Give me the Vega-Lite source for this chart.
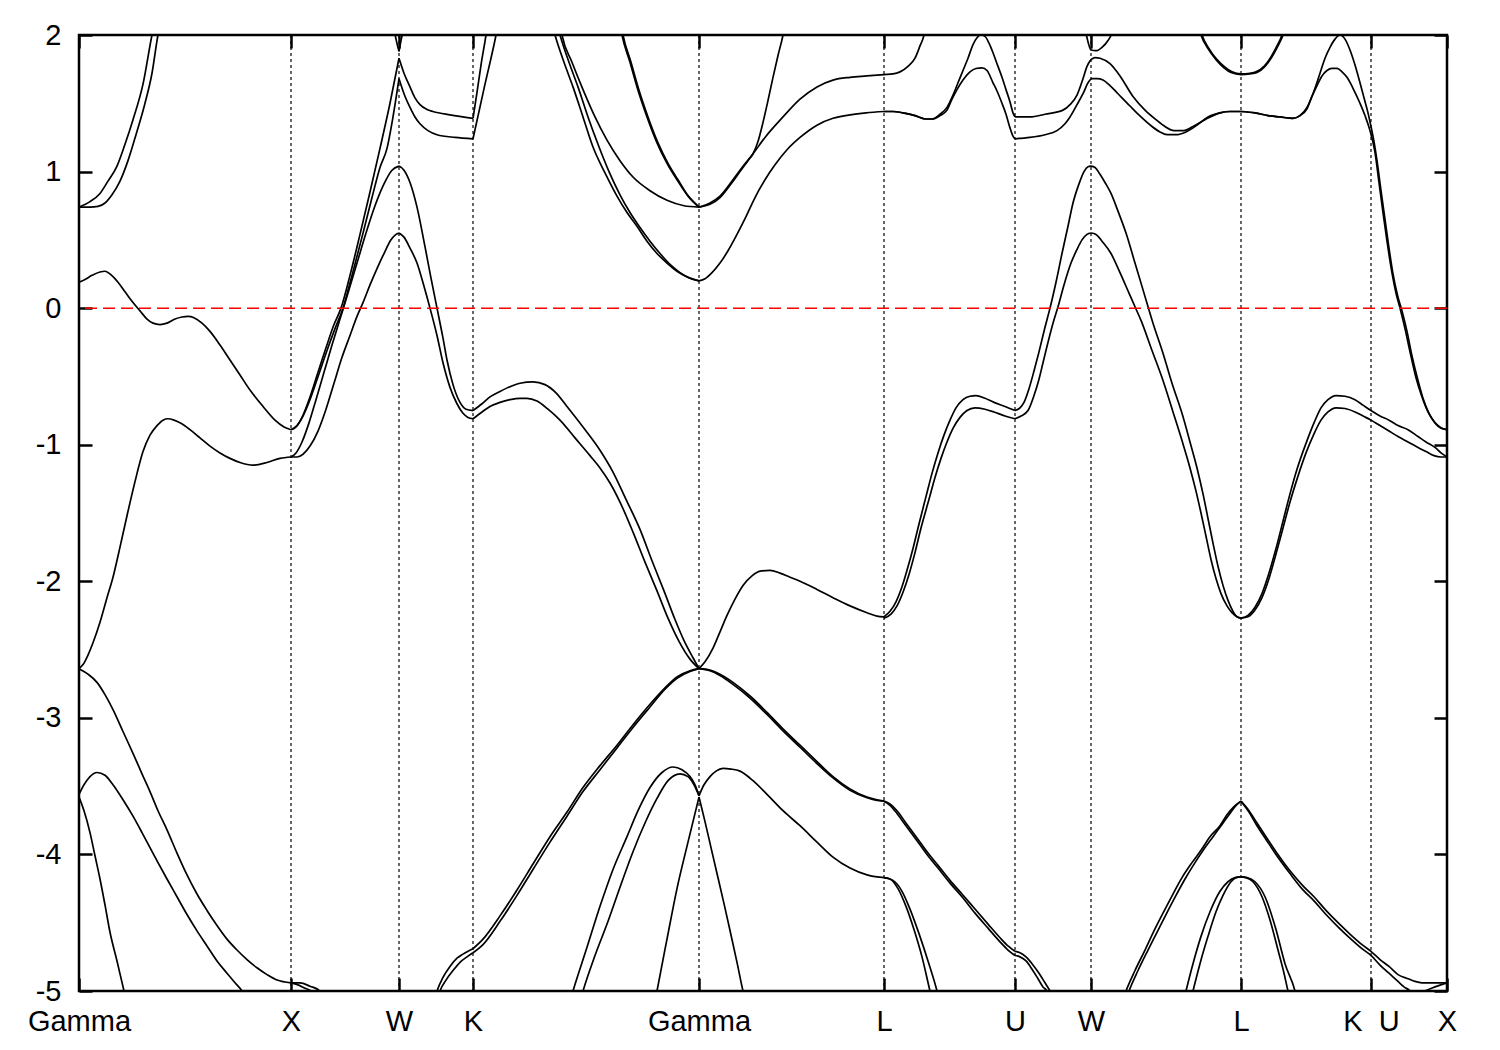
{
"$schema": "https://vega.github.io/schema/vega-lite/v6.json",
"width": 1368, "height": 956,
"autosize": {"type": "none"},
"padding": {"left": 79, "top": 35, "right": 53, "bottom": 59},
"background": "white",
"config": {
 "view": {"stroke": "black", "strokeWidth": 2.5},
 "axis": {"labelFont": "Liberation Sans", "labelFontSize": 29, "labelColor": "black", "tickColor": "black", "tickWidth": 2.5, "tickSize": 13, "offset": -13, "domain": false, "grid": false, "labelFlush": false, "labelOverlap": false, "labelBound": false, "title": null}
},
"resolve": {"axis": {"x": "independent", "y": "independent"}},
"layer": [
 {
  "data": {"values": [{"k":291},{"k":399},{"k":473},{"k":699},{"k":884},{"k":1015},{"k":1091},{"k":1241},{"k":1371}]},
  "mark": {"type": "rule", "color": "black", "strokeDash": [3,3], "strokeWidth": 1.2},
  "encoding": {
   "x": {"field": "k", "type": "quantitative", "scale": {"domain": [79,1447], "nice": false, "zero": false},
         "axis": {"orient": "top", "values": [79,291,399,473,699,884,1015,1091,1241,1371,1447], "labels": false}}
  }
 },
 {
  "data": {"values": [
{"b":"s1","k":79,"e":0.74},{"b":"s1","k":90,"e":0.78},{"b":"s1","k":100,"e":0.84},{"b":"s1","k":108,"e":0.93},{"b":"s1","k":117,"e":1.04},{"b":"s1","k":125,"e":1.2},{"b":"s1","k":133,"e":1.38},{"b":"s1","k":143,"e":1.64},{"b":"s1","k":152,"e":2.0},{"b":"s1","k":155,"e":2.1},
{"b":"s2","k":79,"e":0.74},{"b":"s2","k":90,"e":0.74},{"b":"s2","k":98,"e":0.745},{"b":"s2","k":105,"e":0.77},{"b":"s2","k":112,"e":0.83},{"b":"s2","k":120,"e":0.93},{"b":"s2","k":128,"e":1.08},{"b":"s2","k":136,"e":1.27},{"b":"s2","k":145,"e":1.5},{"b":"s2","k":152,"e":1.72},{"b":"s2","k":158,"e":2.0},{"b":"s2","k":161,"e":2.1},
{"b":"s3","k":79,"e":0.19},{"b":"s3","k":85,"e":0.21},{"b":"s3","k":92,"e":0.24},{"b":"s3","k":100,"e":0.265},{"b":"s3","k":105,"e":0.27},{"b":"s3","k":110,"e":0.25},{"b":"s3","k":118,"e":0.19},{"b":"s3","k":125,"e":0.12},{"b":"s3","k":132,"e":0.05},{"b":"s3","k":140,"e":-0.02},{"b":"s3","k":147,"e":-0.08},{"b":"s3","k":153,"e":-0.11},{"b":"s3","k":160,"e":-0.12},{"b":"s3","k":167,"e":-0.11},{"b":"s3","k":175,"e":-0.08},{"b":"s3","k":182,"e":-0.065},{"b":"s3","k":188,"e":-0.06},{"b":"s3","k":194,"e":-0.07},{"b":"s3","k":202,"e":-0.11},{"b":"s3","k":210,"e":-0.17},{"b":"s3","k":220,"e":-0.27},{"b":"s3","k":230,"e":-0.38},{"b":"s3","k":240,"e":-0.49},{"b":"s3","k":250,"e":-0.6},{"b":"s3","k":263,"e":-0.72},{"b":"s3","k":275,"e":-0.82},{"b":"s3","k":284,"e":-0.87},{"b":"s3","k":291,"e":-0.89},
{"b":"s4","k":79,"e":-2.64},{"b":"s4","k":83,"e":-2.61},{"b":"s4","k":88,"e":-2.54},{"b":"s4","k":93,"e":-2.45},{"b":"s4","k":100,"e":-2.3},{"b":"s4","k":107,"e":-2.12},{"b":"s4","k":113,"e":-1.97},{"b":"s4","k":120,"e":-1.75},{"b":"s4","k":127,"e":-1.52},{"b":"s4","k":135,"e":-1.27},{"b":"s4","k":143,"e":-1.05},{"b":"s4","k":150,"e":-0.93},{"b":"s4","k":157,"e":-0.86},{"b":"s4","k":163,"e":-0.82},{"b":"s4","k":168,"e":-0.81},{"b":"s4","k":174,"e":-0.82},{"b":"s4","k":180,"e":-0.84},{"b":"s4","k":190,"e":-0.89},{"b":"s4","k":200,"e":-0.95},{"b":"s4","k":210,"e":-1.01},{"b":"s4","k":220,"e":-1.06},{"b":"s4","k":230,"e":-1.1},{"b":"s4","k":240,"e":-1.13},{"b":"s4","k":253,"e":-1.15},{"b":"s4","k":267,"e":-1.13},{"b":"s4","k":280,"e":-1.1},{"b":"s4","k":291,"e":-1.09},
{"b":"s5","k":79,"e":-2.64},{"b":"s5","k":88,"e":-2.68},{"b":"s5","k":97,"e":-2.74},{"b":"s5","k":105,"e":-2.83},{"b":"s5","k":113,"e":-2.94},{"b":"s5","k":123,"e":-3.1},{"b":"s5","k":133,"e":-3.26},{"b":"s5","k":142,"e":-3.41},{"b":"s5","k":150,"e":-3.54},{"b":"s5","k":158,"e":-3.68},{"b":"s5","k":167,"e":-3.82},{"b":"s5","k":177,"e":-3.99},{"b":"s5","k":187,"e":-4.15},{"b":"s5","k":197,"e":-4.29},{"b":"s5","k":207,"e":-4.41},{"b":"s5","k":217,"e":-4.52},{"b":"s5","k":227,"e":-4.62},{"b":"s5","k":237,"e":-4.7},{"b":"s5","k":247,"e":-4.77},{"b":"s5","k":257,"e":-4.83},{"b":"s5","k":267,"e":-4.88},{"b":"s5","k":277,"e":-4.92},{"b":"s5","k":291,"e":-4.94},
{"b":"s6","k":79,"e":-3.56},{"b":"s6","k":84,"e":-3.49},{"b":"s6","k":90,"e":-3.43},{"b":"s6","k":97,"e":-3.4},{"b":"s6","k":105,"e":-3.42},{"b":"s6","k":113,"e":-3.49},{"b":"s6","k":123,"e":-3.6},{"b":"s6","k":133,"e":-3.72},{"b":"s6","k":142,"e":-3.84},{"b":"s6","k":150,"e":-3.95},{"b":"s6","k":158,"e":-4.06},{"b":"s6","k":167,"e":-4.18},{"b":"s6","k":177,"e":-4.31},{"b":"s6","k":187,"e":-4.44},{"b":"s6","k":197,"e":-4.56},{"b":"s6","k":207,"e":-4.67},{"b":"s6","k":217,"e":-4.78},{"b":"s6","k":227,"e":-4.87},{"b":"s6","k":235,"e":-4.94},{"b":"s6","k":242,"e":-5.0},{"b":"s6","k":246,"e":-5.05},
{"b":"s7","k":79,"e":-3.58},{"b":"s7","k":84,"e":-3.68},{"b":"s7","k":90,"e":-3.84},{"b":"s7","k":95,"e":-4.01},{"b":"s7","k":100,"e":-4.18},{"b":"s7","k":105,"e":-4.37},{"b":"s7","k":110,"e":-4.57},{"b":"s7","k":117,"e":-4.78},{"b":"s7","k":124,"e":-5.0},{"b":"s7","k":126,"e":-5.06},
{"b":"s8","k":291,"e":-4.94},{"b":"s8","k":300,"e":-4.94},{"b":"s8","k":310,"e":-4.965},{"b":"s8","k":320,"e":-5.0},{"b":"s8","k":323,"e":-5.03},
{"b":"s9","k":291,"e":-4.94},{"b":"s9","k":298,"e":-4.955},{"b":"s9","k":305,"e":-4.98},{"b":"s9","k":311,"e":-5.0},{"b":"s9","k":314,"e":-5.03},
{"b":"sA","k":291,"e":-0.89},{"b":"sA","k":296,"e":-0.87},{"b":"sA","k":302,"e":-0.8},{"b":"sA","k":310,"e":-0.65},{"b":"sA","k":318,"e":-0.47},{"b":"sA","k":326,"e":-0.29},{"b":"sA","k":334,"e":-0.12},{"b":"sA","k":341,"e":0.0},{"b":"sA","k":350,"e":0.24},{"b":"sA","k":360,"e":0.54},{"b":"sA","k":370,"e":0.85},{"b":"sA","k":380,"e":1.17},{"b":"sA","k":390,"e":1.5},{"b":"sA","k":399,"e":1.83},
{"b":"sB","k":291,"e":-0.89},{"b":"sB","k":297,"e":-0.86},{"b":"sB","k":303,"e":-0.79},{"b":"sB","k":311,"e":-0.65},{"b":"sB","k":319,"e":-0.48},{"b":"sB","k":327,"e":-0.31},{"b":"sB","k":335,"e":-0.15},{"b":"sB","k":343,"e":0.0},{"b":"sB","k":352,"e":0.24},{"b":"sB","k":362,"e":0.52},{"b":"sB","k":372,"e":0.81},{"b":"sB","k":380,"e":1.03},{"b":"sB","k":387,"e":1.17},{"b":"sB","k":393,"e":1.4},{"b":"sB","k":399,"e":1.68},
{"b":"sC","k":291,"e":-1.09},{"b":"sC","k":296,"e":-1.06},{"b":"sC","k":302,"e":-0.98},{"b":"sC","k":309,"e":-0.84},{"b":"sC","k":316,"e":-0.67},{"b":"sC","k":324,"e":-0.47},{"b":"sC","k":332,"e":-0.27},{"b":"sC","k":340,"e":-0.08},{"b":"sC","k":348,"e":0.11},{"b":"sC","k":357,"e":0.33},{"b":"sC","k":366,"e":0.55},{"b":"sC","k":375,"e":0.75},{"b":"sC","k":384,"e":0.91},{"b":"sC","k":392,"e":1.01},{"b":"sC","k":399,"e":1.04},
{"b":"sD","k":291,"e":-1.09},{"b":"sD","k":297,"e":-1.09},{"b":"sD","k":303,"e":-1.07},{"b":"sD","k":310,"e":-1.01},{"b":"sD","k":318,"e":-0.9},{"b":"sD","k":326,"e":-0.74},{"b":"sD","k":334,"e":-0.55},{"b":"sD","k":342,"e":-0.36},{"b":"sD","k":350,"e":-0.2},{"b":"sD","k":357,"e":-0.06},{"b":"sD","k":363,"e":0.04},{"b":"sD","k":370,"e":0.17},{"b":"sD","k":377,"e":0.29},{"b":"sD","k":384,"e":0.4},{"b":"sD","k":391,"e":0.5},{"b":"sD","k":396,"e":0.54},{"b":"sD","k":399,"e":0.55},
{"b":"sV1","k":394,"e":2.05},{"b":"sV1","k":396,"e":1.97},{"b":"sV1","k":399,"e":1.88},
{"b":"sV2","k":399,"e":1.88},{"b":"sV2","k":401,"e":1.96},{"b":"sV2","k":404,"e":2.05},
{"b":"sE","k":399,"e":1.83},{"b":"sE","k":404,"e":1.72},{"b":"sE","k":410,"e":1.62},{"b":"sE","k":415,"e":1.54},{"b":"sE","k":420,"e":1.49},{"b":"sE","k":427,"e":1.455},{"b":"sE","k":433,"e":1.44},{"b":"sE","k":450,"e":1.415},{"b":"sE","k":473,"e":1.39},
{"b":"sF","k":399,"e":1.68},{"b":"sF","k":404,"e":1.57},{"b":"sF","k":410,"e":1.47},{"b":"sF","k":415,"e":1.4},{"b":"sF","k":420,"e":1.35},{"b":"sF","k":428,"e":1.3},{"b":"sF","k":437,"e":1.27},{"b":"sF","k":455,"e":1.25},{"b":"sF","k":473,"e":1.24},
{"b":"sG","k":399,"e":1.04},{"b":"sG","k":404,"e":1.01},{"b":"sG","k":410,"e":0.92},{"b":"sG","k":417,"e":0.74},{"b":"sG","k":425,"e":0.45},{"b":"sG","k":431,"e":0.22},{"b":"sG","k":437,"e":0.0},{"b":"sG","k":443,"e":-0.22},{"b":"sG","k":447,"e":-0.38},{"b":"sG","k":453,"e":-0.56},{"b":"sG","k":460,"e":-0.69},{"b":"sG","k":466,"e":-0.74},{"b":"sG","k":473,"e":-0.75},
{"b":"sH","k":399,"e":0.55},{"b":"sH","k":404,"e":0.52},{"b":"sH","k":410,"e":0.44},{"b":"sH","k":417,"e":0.33},{"b":"sH","k":424,"e":0.16},{"b":"sH","k":430,"e":0.0},{"b":"sH","k":437,"e":-0.2},{"b":"sH","k":443,"e":-0.4},{"b":"sH","k":450,"e":-0.58},{"b":"sH","k":457,"e":-0.7},{"b":"sH","k":463,"e":-0.77},{"b":"sH","k":468,"e":-0.8},{"b":"sH","k":473,"e":-0.81},
{"b":"sI","k":435,"e":-5.05},{"b":"sI","k":437,"e":-5.0},{"b":"sI","k":443,"e":-4.9},{"b":"sI","k":450,"e":-4.82},{"b":"sI","k":457,"e":-4.76},{"b":"sI","k":463,"e":-4.73},{"b":"sI","k":473,"e":-4.69},
{"b":"sJ","k":438,"e":-5.05},{"b":"sJ","k":440,"e":-5.0},{"b":"sJ","k":446,"e":-4.92},{"b":"sJ","k":453,"e":-4.85},{"b":"sJ","k":460,"e":-4.79},{"b":"sJ","k":467,"e":-4.75},{"b":"sJ","k":473,"e":-4.72},
{"b":"sK1","k":473,"e":1.39},{"b":"sK1","k":477,"e":1.58},{"b":"sK1","k":481,"e":1.78},{"b":"sK1","k":486,"e":2.0},{"b":"sK1","k":488,"e":2.1},
{"b":"sK2","k":473,"e":1.24},{"b":"sK2","k":479,"e":1.44},{"b":"sK2","k":485,"e":1.64},{"b":"sK2","k":491,"e":1.83},{"b":"sK2","k":496,"e":2.0},{"b":"sK2","k":498,"e":2.08},
{"b":"sL1","k":552,"e":2.08},{"b":"sL1","k":555,"e":2.0},{"b":"sL1","k":564,"e":1.8},{"b":"sL1","k":573,"e":1.62},{"b":"sL1","k":583,"e":1.4},{"b":"sL1","k":593,"e":1.18},{"b":"sL1","k":605,"e":0.99},{"b":"sL1","k":617,"e":0.82},{"b":"sL1","k":627,"e":0.7},{"b":"sL1","k":637,"e":0.6},{"b":"sL1","k":647,"e":0.49},{"b":"sL1","k":657,"e":0.4},{"b":"sL1","k":667,"e":0.33},{"b":"sL1","k":677,"e":0.27},{"b":"sL1","k":688,"e":0.225},{"b":"sL1","k":699,"e":0.2},
{"b":"sL2","k":557,"e":2.08},{"b":"sL2","k":560,"e":2.0},{"b":"sL2","k":569,"e":1.8},{"b":"sL2","k":578,"e":1.62},{"b":"sL2","k":588,"e":1.4},{"b":"sL2","k":598,"e":1.2},{"b":"sL2","k":609,"e":1.0},{"b":"sL2","k":620,"e":0.83},{"b":"sL2","k":630,"e":0.7},{"b":"sL2","k":640,"e":0.59},{"b":"sL2","k":650,"e":0.49},{"b":"sL2","k":660,"e":0.4},{"b":"sL2","k":670,"e":0.32},{"b":"sL2","k":680,"e":0.26},{"b":"sL2","k":690,"e":0.22},{"b":"sL2","k":699,"e":0.2},
{"b":"sL3","k":560,"e":2.08},{"b":"sL3","k":562,"e":2.0},{"b":"sL3","k":572,"e":1.8},{"b":"sL3","k":583,"e":1.6},{"b":"sL3","k":595,"e":1.4},{"b":"sL3","k":607,"e":1.23},{"b":"sL3","k":620,"e":1.08},{"b":"sL3","k":633,"e":0.96},{"b":"sL3","k":650,"e":0.86},{"b":"sL3","k":667,"e":0.79},{"b":"sL3","k":684,"e":0.75},{"b":"sL3","k":699,"e":0.74},
{"b":"sL4","k":620,"e":2.08},{"b":"sL4","k":622,"e":2.0},{"b":"sL4","k":630,"e":1.8},{"b":"sL4","k":637,"e":1.62},{"b":"sL4","k":647,"e":1.4},{"b":"sL4","k":657,"e":1.21},{"b":"sL4","k":667,"e":1.06},{"b":"sL4","k":677,"e":0.94},{"b":"sL4","k":688,"e":0.82},{"b":"sL4","k":699,"e":0.74},
{"b":"sL4b","k":621,"e":2.08},{"b":"sL4b","k":623,"e":2.0},{"b":"sL4b","k":631,"e":1.8},{"b":"sL4b","k":638,"e":1.62},{"b":"sL4b","k":648,"e":1.4},{"b":"sL4b","k":658,"e":1.21},{"b":"sL4b","k":668,"e":1.06},{"b":"sL4b","k":678,"e":0.94},{"b":"sL4b","k":689,"e":0.815},{"b":"sL4b","k":699,"e":0.74},
{"b":"sM1","k":473,"e":-0.75},{"b":"sM1","k":482,"e":-0.7},{"b":"sM1","k":490,"e":-0.65},{"b":"sM1","k":500,"e":-0.61},{"b":"sM1","k":510,"e":-0.575},{"b":"sM1","k":520,"e":-0.55},{"b":"sM1","k":533,"e":-0.54},{"b":"sM1","k":545,"e":-0.56},{"b":"sM1","k":556,"e":-0.62},{"b":"sM1","k":567,"e":-0.72},{"b":"sM1","k":583,"e":-0.87},{"b":"sM1","k":600,"e":-1.04},{"b":"sM1","k":613,"e":-1.2},{"b":"sM1","k":626,"e":-1.4},{"b":"sM1","k":640,"e":-1.62},{"b":"sM1","k":652,"e":-1.85},{"b":"sM1","k":664,"e":-2.07},{"b":"sM1","k":675,"e":-2.28},{"b":"sM1","k":685,"e":-2.45},{"b":"sM1","k":693,"e":-2.56},{"b":"sM1","k":699,"e":-2.64},
{"b":"sM2","k":473,"e":-0.81},{"b":"sM2","k":482,"e":-0.76},{"b":"sM2","k":490,"e":-0.72},{"b":"sM2","k":500,"e":-0.69},{"b":"sM2","k":510,"e":-0.67},{"b":"sM2","k":520,"e":-0.66},{"b":"sM2","k":527,"e":-0.66},{"b":"sM2","k":537,"e":-0.68},{"b":"sM2","k":548,"e":-0.74},{"b":"sM2","k":560,"e":-0.82},{"b":"sM2","k":575,"e":-0.95},{"b":"sM2","k":590,"e":-1.08},{"b":"sM2","k":600,"e":-1.17},{"b":"sM2","k":610,"e":-1.28},{"b":"sM2","k":620,"e":-1.42},{"b":"sM2","k":633,"e":-1.64},{"b":"sM2","k":645,"e":-1.86},{"b":"sM2","k":657,"e":-2.07},{"b":"sM2","k":668,"e":-2.27},{"b":"sM2","k":679,"e":-2.44},{"b":"sM2","k":690,"e":-2.57},{"b":"sM2","k":699,"e":-2.64},
{"b":"sN1","k":473,"e":-4.69},{"b":"sN1","k":483,"e":-4.62},{"b":"sN1","k":500,"e":-4.45},{"b":"sN1","k":517,"e":-4.26},{"b":"sN1","k":533,"e":-4.07},{"b":"sN1","k":550,"e":-3.87},{"b":"sN1","k":567,"e":-3.69},{"b":"sN1","k":583,"e":-3.51},{"b":"sN1","k":600,"e":-3.35},{"b":"sN1","k":617,"e":-3.2},{"b":"sN1","k":633,"e":-3.05},{"b":"sN1","k":650,"e":-2.9},{"b":"sN1","k":665,"e":-2.78},{"b":"sN1","k":677,"e":-2.7},{"b":"sN1","k":690,"e":-2.655},{"b":"sN1","k":699,"e":-2.64},
{"b":"sN2","k":473,"e":-4.72},{"b":"sN2","k":483,"e":-4.66},{"b":"sN2","k":500,"e":-4.49},{"b":"sN2","k":517,"e":-4.3},{"b":"sN2","k":533,"e":-4.11},{"b":"sN2","k":550,"e":-3.91},{"b":"sN2","k":567,"e":-3.72},{"b":"sN2","k":583,"e":-3.54},{"b":"sN2","k":600,"e":-3.38},{"b":"sN2","k":617,"e":-3.22},{"b":"sN2","k":633,"e":-3.07},{"b":"sN2","k":650,"e":-2.92},{"b":"sN2","k":665,"e":-2.79},{"b":"sN2","k":677,"e":-2.71},{"b":"sN2","k":690,"e":-2.66},{"b":"sN2","k":699,"e":-2.64},
{"b":"sO1","k":571,"e":-5.05},{"b":"sO1","k":573,"e":-5.0},{"b":"sO1","k":587,"e":-4.68},{"b":"sO1","k":600,"e":-4.38},{"b":"sO1","k":613,"e":-4.11},{"b":"sO1","k":627,"e":-3.87},{"b":"sO1","k":638,"e":-3.68},{"b":"sO1","k":650,"e":-3.51},{"b":"sO1","k":662,"e":-3.4},{"b":"sO1","k":673,"e":-3.36},{"b":"sO1","k":682,"e":-3.38},{"b":"sO1","k":690,"e":-3.43},{"b":"sO1","k":695,"e":-3.49},{"b":"sO1","k":699,"e":-3.57},
{"b":"sO2","k":581,"e":-5.05},{"b":"sO2","k":583,"e":-5.0},{"b":"sO2","k":595,"e":-4.74},{"b":"sO2","k":607,"e":-4.51},{"b":"sO2","k":620,"e":-4.24},{"b":"sO2","k":633,"e":-3.98},{"b":"sO2","k":645,"e":-3.77},{"b":"sO2","k":657,"e":-3.59},{"b":"sO2","k":668,"e":-3.46},{"b":"sO2","k":680,"e":-3.41},{"b":"sO2","k":688,"e":-3.43},{"b":"sO2","k":694,"e":-3.49},{"b":"sO2","k":699,"e":-3.57},
{"b":"sP","k":656,"e":-5.04},{"b":"sP","k":657,"e":-5.0},{"b":"sP","k":667,"e":-4.62},{"b":"sP","k":677,"e":-4.25},{"b":"sP","k":688,"e":-3.91},{"b":"sP","k":699,"e":-3.58},
{"b":"sQ1","k":699,"e":0.74},{"b":"sQ1","k":710,"e":0.76},{"b":"sQ1","k":720,"e":0.81},{"b":"sQ1","k":730,"e":0.9},{"b":"sQ1","k":740,"e":1.0},{"b":"sQ1","k":748,"e":1.08},{"b":"sQ1","k":753,"e":1.13},{"b":"sQ1","k":758,"e":1.22},{"b":"sQ1","k":763,"e":1.36},{"b":"sQ1","k":768,"e":1.52},{"b":"sQ1","k":773,"e":1.69},{"b":"sQ1","k":778,"e":1.85},{"b":"sQ1","k":783,"e":2.0},{"b":"sQ1","k":785,"e":2.08},
{"b":"sQ2","k":699,"e":0.74},{"b":"sQ2","k":710,"e":0.77},{"b":"sQ2","k":720,"e":0.82},{"b":"sQ2","k":730,"e":0.91},{"b":"sQ2","k":740,"e":1.01},{"b":"sQ2","k":753,"e":1.13},{"b":"sQ2","k":765,"e":1.25},{"b":"sQ2","k":783,"e":1.4},{"b":"sQ2","k":800,"e":1.53},{"b":"sQ2","k":817,"e":1.62},{"b":"sQ2","k":833,"e":1.67},{"b":"sQ2","k":850,"e":1.69},{"b":"sQ2","k":867,"e":1.7},{"b":"sQ2","k":884,"e":1.71},{"b":"sQ2","k":893,"e":1.715},{"b":"sQ2","k":900,"e":1.73},{"b":"sQ2","k":908,"e":1.77},{"b":"sQ2","k":915,"e":1.83},{"b":"sQ2","k":920,"e":1.92},{"b":"sQ2","k":924,"e":2.0},{"b":"sQ2","k":926,"e":2.08},
{"b":"sR","k":699,"e":0.2},{"b":"sR","k":705,"e":0.215},{"b":"sR","k":712,"e":0.26},{"b":"sR","k":720,"e":0.33},{"b":"sR","k":728,"e":0.42},{"b":"sR","k":737,"e":0.54},{"b":"sR","k":746,"e":0.67},{"b":"sR","k":755,"e":0.81},{"b":"sR","k":765,"e":0.94},{"b":"sR","k":775,"e":1.05},{"b":"sR","k":787,"e":1.16},{"b":"sR","k":800,"e":1.25},{"b":"sR","k":817,"e":1.34},{"b":"sR","k":833,"e":1.39},{"b":"sR","k":850,"e":1.415},{"b":"sR","k":866,"e":1.43},{"b":"sR","k":884,"e":1.44},
{"b":"sGL1","k":699,"e":-2.64},{"b":"sGL1","k":705,"e":-2.59},{"b":"sGL1","k":713,"e":-2.49},{"b":"sGL1","k":720,"e":-2.37},{"b":"sGL1","k":727,"e":-2.25},{"b":"sGL1","k":735,"e":-2.13},{"b":"sGL1","k":743,"e":-2.03},{"b":"sGL1","k":752,"e":-1.96},{"b":"sGL1","k":760,"e":-1.925},{"b":"sGL1","k":770,"e":-1.92},{"b":"sGL1","k":780,"e":-1.94},{"b":"sGL1","k":790,"e":-1.97},{"b":"sGL1","k":800,"e":-2.0},{"b":"sGL1","k":817,"e":-2.06},{"b":"sGL1","k":833,"e":-2.12},{"b":"sGL1","k":850,"e":-2.18},{"b":"sGL1","k":867,"e":-2.23},{"b":"sGL1","k":877,"e":-2.255},{"b":"sGL1","k":884,"e":-2.26},
{"b":"sGL2","k":699,"e":-2.64},{"b":"sGL2","k":710,"e":-2.65},{"b":"sGL2","k":720,"e":-2.68},{"b":"sGL2","k":733,"e":-2.74},{"b":"sGL2","k":750,"e":-2.84},{"b":"sGL2","k":767,"e":-2.96},{"b":"sGL2","k":783,"e":-3.08},{"b":"sGL2","k":800,"e":-3.2},{"b":"sGL2","k":817,"e":-3.32},{"b":"sGL2","k":833,"e":-3.43},{"b":"sGL2","k":850,"e":-3.52},{"b":"sGL2","k":867,"e":-3.58},{"b":"sGL2","k":877,"e":-3.6},{"b":"sGL2","k":884,"e":-3.61},
{"b":"sGL2b","k":699,"e":-2.64},{"b":"sGL2b","k":710,"e":-2.655},{"b":"sGL2b","k":720,"e":-2.69},{"b":"sGL2b","k":733,"e":-2.755},{"b":"sGL2b","k":750,"e":-2.855},{"b":"sGL2b","k":767,"e":-2.975},{"b":"sGL2b","k":783,"e":-3.095},{"b":"sGL2b","k":800,"e":-3.215},{"b":"sGL2b","k":817,"e":-3.335},{"b":"sGL2b","k":833,"e":-3.44},{"b":"sGL2b","k":850,"e":-3.53},{"b":"sGL2b","k":867,"e":-3.585},{"b":"sGL2b","k":877,"e":-3.605},{"b":"sGL2b","k":884,"e":-3.61},
{"b":"sGL3","k":699,"e":-3.57},{"b":"sGL3","k":704,"e":-3.49},{"b":"sGL3","k":710,"e":-3.43},{"b":"sGL3","k":716,"e":-3.39},{"b":"sGL3","k":723,"e":-3.37},{"b":"sGL3","k":731,"e":-3.375},{"b":"sGL3","k":740,"e":-3.39},{"b":"sGL3","k":753,"e":-3.46},{"b":"sGL3","k":767,"e":-3.56},{"b":"sGL3","k":783,"e":-3.68},{"b":"sGL3","k":800,"e":-3.79},{"b":"sGL3","k":817,"e":-3.91},{"b":"sGL3","k":833,"e":-4.02},{"b":"sGL3","k":850,"e":-4.1},{"b":"sGL3","k":867,"e":-4.15},{"b":"sGL3","k":877,"e":-4.165},{"b":"sGL3","k":884,"e":-4.17},
{"b":"sGL4","k":699,"e":-3.58},{"b":"sGL4","k":705,"e":-3.76},{"b":"sGL4","k":711,"e":-3.95},{"b":"sGL4","k":717,"e":-4.14},{"b":"sGL4","k":724,"e":-4.36},{"b":"sGL4","k":731,"e":-4.59},{"b":"sGL4","k":737,"e":-4.79},{"b":"sGL4","k":743,"e":-5.0},{"b":"sGL4","k":745,"e":-5.06},
{"b":"sS1","k":884,"e":1.44},{"b":"sS1","k":893,"e":1.44},{"b":"sS1","k":903,"e":1.43},{"b":"sS1","k":915,"e":1.41},{"b":"sS1","k":925,"e":1.385},{"b":"sS1","k":932,"e":1.385},{"b":"sS1","k":940,"e":1.42},{"b":"sS1","k":947,"e":1.47},{"b":"sS1","k":953,"e":1.56},{"b":"sS1","k":958,"e":1.65},{"b":"sS1","k":963,"e":1.74},{"b":"sS1","k":968,"e":1.83},{"b":"sS1","k":973,"e":1.93},{"b":"sS1","k":977,"e":1.98},{"b":"sS1","k":981,"e":2.0},{"b":"sS1","k":985,"e":1.99},{"b":"sS1","k":989,"e":1.94},{"b":"sS1","k":993,"e":1.87},{"b":"sS1","k":997,"e":1.79},{"b":"sS1","k":1002,"e":1.69},{"b":"sS1","k":1006,"e":1.6},{"b":"sS1","k":1010,"e":1.51},{"b":"sS1","k":1013,"e":1.43},{"b":"sS1","k":1015,"e":1.4},
{"b":"sS2","k":884,"e":1.44},{"b":"sS2","k":893,"e":1.44},{"b":"sS2","k":903,"e":1.43},{"b":"sS2","k":915,"e":1.41},{"b":"sS2","k":925,"e":1.385},{"b":"sS2","k":932,"e":1.385},{"b":"sS2","k":940,"e":1.41},{"b":"sS2","k":947,"e":1.45},{"b":"sS2","k":952,"e":1.53},{"b":"sS2","k":957,"e":1.6},{"b":"sS2","k":963,"e":1.67},{"b":"sS2","k":970,"e":1.73},{"b":"sS2","k":976,"e":1.755},{"b":"sS2","k":982,"e":1.76},{"b":"sS2","k":987,"e":1.74},{"b":"sS2","k":993,"e":1.65},{"b":"sS2","k":997,"e":1.59},{"b":"sS2","k":1002,"e":1.5},{"b":"sS2","k":1006,"e":1.42},{"b":"sS2","k":1010,"e":1.32},{"b":"sS2","k":1013,"e":1.26},{"b":"sS2","k":1015,"e":1.24},
{"b":"sLU1","k":884,"e":-3.61},{"b":"sLU1","k":890,"e":-3.63},{"b":"sLU1","k":897,"e":-3.68},{"b":"sLU1","k":905,"e":-3.76},{"b":"sLU1","k":917,"e":-3.88},{"b":"sLU1","k":928,"e":-3.99},{"b":"sLU1","k":938,"e":-4.08},{"b":"sLU1","k":950,"e":-4.19},{"b":"sLU1","k":962,"e":-4.29},{"b":"sLU1","k":975,"e":-4.4},{"b":"sLU1","k":988,"e":-4.51},{"b":"sLU1","k":1000,"e":-4.61},{"b":"sLU1","k":1008,"e":-4.67},{"b":"sLU1","k":1015,"e":-4.71},
{"b":"sLU2","k":884,"e":-3.61},{"b":"sLU2","k":890,"e":-3.64},{"b":"sLU2","k":897,"e":-3.7},{"b":"sLU2","k":905,"e":-3.78},{"b":"sLU2","k":917,"e":-3.9},{"b":"sLU2","k":928,"e":-4.01},{"b":"sLU2","k":938,"e":-4.1},{"b":"sLU2","k":950,"e":-4.21},{"b":"sLU2","k":962,"e":-4.31},{"b":"sLU2","k":975,"e":-4.43},{"b":"sLU2","k":988,"e":-4.54},{"b":"sLU2","k":1000,"e":-4.64},{"b":"sLU2","k":1008,"e":-4.7},{"b":"sLU2","k":1015,"e":-4.74},
{"b":"sLU3","k":884,"e":-4.17},{"b":"sLU3","k":890,"e":-4.18},{"b":"sLU3","k":898,"e":-4.25},{"b":"sLU3","k":906,"e":-4.38},{"b":"sLU3","k":914,"e":-4.55},{"b":"sLU3","k":922,"e":-4.75},{"b":"sLU3","k":930,"e":-5.0},{"b":"sLU3","k":931,"e":-5.03},
{"b":"sLU4","k":884,"e":-4.17},{"b":"sLU4","k":893,"e":-4.19},{"b":"sLU4","k":902,"e":-4.27},{"b":"sLU4","k":910,"e":-4.4},{"b":"sLU4","k":919,"e":-4.58},{"b":"sLU4","k":928,"e":-4.78},{"b":"sLU4","k":937,"e":-5.0},{"b":"sLU4","k":938,"e":-5.03},
{"b":"sLU5","k":884,"e":-2.26},{"b":"sLU5","k":890,"e":-2.22},{"b":"sLU5","k":896,"e":-2.15},{"b":"sLU5","k":902,"e":-2.04},{"b":"sLU5","k":907,"e":-1.92},{"b":"sLU5","k":913,"e":-1.76},{"b":"sLU5","k":919,"e":-1.58},{"b":"sLU5","k":926,"e":-1.38},{"b":"sLU5","k":932,"e":-1.21},{"b":"sLU5","k":938,"e":-1.06},{"b":"sLU5","k":944,"e":-0.93},{"b":"sLU5","k":950,"e":-0.82},{"b":"sLU5","k":956,"e":-0.73},{"b":"sLU5","k":963,"e":-0.67},{"b":"sLU5","k":970,"e":-0.645},{"b":"sLU5","k":976,"e":-0.64},{"b":"sLU5","k":985,"e":-0.66},{"b":"sLU5","k":994,"e":-0.69},{"b":"sLU5","k":1005,"e":-0.72},{"b":"sLU5","k":1015,"e":-0.75},
{"b":"sLU6","k":884,"e":-2.27},{"b":"sLU6","k":891,"e":-2.24},{"b":"sLU6","k":897,"e":-2.18},{"b":"sLU6","k":903,"e":-2.08},{"b":"sLU6","k":909,"e":-1.95},{"b":"sLU6","k":915,"e":-1.79},{"b":"sLU6","k":921,"e":-1.61},{"b":"sLU6","k":929,"e":-1.4},{"b":"sLU6","k":935,"e":-1.24},{"b":"sLU6","k":941,"e":-1.1},{"b":"sLU6","k":947,"e":-0.98},{"b":"sLU6","k":953,"e":-0.88},{"b":"sLU6","k":960,"e":-0.8},{"b":"sLU6","k":967,"e":-0.75},{"b":"sLU6","k":975,"e":-0.73},{"b":"sLU6","k":985,"e":-0.74},{"b":"sLU6","k":994,"e":-0.76},{"b":"sLU6","k":1005,"e":-0.79},{"b":"sLU6","k":1015,"e":-0.81},
{"b":"sU1","k":1015,"e":1.4},{"b":"sU1","k":1030,"e":1.4},{"b":"sU1","k":1045,"e":1.42},{"b":"sU1","k":1063,"e":1.45},{"b":"sU1","k":1070,"e":1.49},{"b":"sU1","k":1077,"e":1.56},{"b":"sU1","k":1083,"e":1.68},{"b":"sU1","k":1087,"e":1.77},{"b":"sU1","k":1091,"e":1.82},
{"b":"sU2","k":1015,"e":1.24},{"b":"sU2","k":1030,"e":1.25},{"b":"sU2","k":1045,"e":1.27},{"b":"sU2","k":1057,"e":1.3},{"b":"sU2","k":1065,"e":1.35},{"b":"sU2","k":1070,"e":1.4},{"b":"sU2","k":1077,"e":1.49},{"b":"sU2","k":1083,"e":1.57},{"b":"sU2","k":1088,"e":1.65},{"b":"sU2","k":1091,"e":1.68},
{"b":"sUW1","k":1015,"e":-0.75},{"b":"sUW1","k":1020,"e":-0.73},{"b":"sUW1","k":1024,"e":-0.69},{"b":"sUW1","k":1029,"e":-0.59},{"b":"sUW1","k":1034,"e":-0.46},{"b":"sUW1","k":1039,"e":-0.32},{"b":"sUW1","k":1045,"e":-0.14},{"b":"sUW1","k":1050,"e":0.0},{"b":"sUW1","k":1056,"e":0.19},{"b":"sUW1","k":1062,"e":0.4},{"b":"sUW1","k":1068,"e":0.6},{"b":"sUW1","k":1073,"e":0.77},{"b":"sUW1","k":1079,"e":0.91},{"b":"sUW1","k":1084,"e":1.0},{"b":"sUW1","k":1088,"e":1.035},{"b":"sUW1","k":1091,"e":1.04},
{"b":"sUW2","k":1015,"e":-0.81},{"b":"sUW2","k":1021,"e":-0.79},{"b":"sUW2","k":1028,"e":-0.75},{"b":"sUW2","k":1034,"e":-0.64},{"b":"sUW2","k":1039,"e":-0.52},{"b":"sUW2","k":1043,"e":-0.4},{"b":"sUW2","k":1048,"e":-0.25},{"b":"sUW2","k":1053,"e":-0.11},{"b":"sUW2","k":1058,"e":0.01},{"b":"sUW2","k":1064,"e":0.17},{"b":"sUW2","k":1071,"e":0.33},{"b":"sUW2","k":1077,"e":0.43},{"b":"sUW2","k":1082,"e":0.5},{"b":"sUW2","k":1087,"e":0.54},{"b":"sUW2","k":1091,"e":0.55},
{"b":"sT1","k":1015,"e":-4.71},{"b":"sT1","k":1020,"e":-4.72},{"b":"sT1","k":1026,"e":-4.75},{"b":"sT1","k":1032,"e":-4.8},{"b":"sT1","k":1039,"e":-4.87},{"b":"sT1","k":1045,"e":-4.94},{"b":"sT1","k":1050,"e":-5.0},{"b":"sT1","k":1052,"e":-5.03},
{"b":"sT2","k":1015,"e":-4.74},{"b":"sT2","k":1020,"e":-4.75},{"b":"sT2","k":1026,"e":-4.78},{"b":"sT2","k":1032,"e":-4.84},{"b":"sT2","k":1038,"e":-4.91},{"b":"sT2","k":1043,"e":-4.97},{"b":"sT2","k":1047,"e":-5.0},{"b":"sT2","k":1049,"e":-5.03},
{"b":"sWc","k":1085,"e":2.05},{"b":"sWc","k":1088,"e":1.95},{"b":"sWc","k":1091,"e":1.89},{"b":"sWc","k":1096,"e":1.885},{"b":"sWc","k":1102,"e":1.91},{"b":"sWc","k":1108,"e":1.96},{"b":"sWc","k":1112,"e":2.02},{"b":"sWc","k":1113,"e":2.06},
{"b":"sW1","k":1091,"e":1.82},{"b":"sW1","k":1095,"e":1.835},{"b":"sW1","k":1100,"e":1.83},{"b":"sW1","k":1110,"e":1.79},{"b":"sW1","k":1120,"e":1.7},{"b":"sW1","k":1133,"e":1.55},{"b":"sW1","k":1145,"e":1.45},{"b":"sW1","k":1156,"e":1.38},{"b":"sW1","k":1165,"e":1.33},{"b":"sW1","k":1174,"e":1.3},{"b":"sW1","k":1184,"e":1.3},{"b":"sW1","k":1193,"e":1.33},{"b":"sW1","k":1205,"e":1.38},{"b":"sW1","k":1220,"e":1.43},{"b":"sW1","k":1230,"e":1.44},{"b":"sW1","k":1241,"e":1.44},
{"b":"sW2","k":1091,"e":1.68},{"b":"sW2","k":1097,"e":1.68},{"b":"sW2","k":1103,"e":1.67},{"b":"sW2","k":1110,"e":1.63},{"b":"sW2","k":1118,"e":1.57},{"b":"sW2","k":1130,"e":1.48},{"b":"sW2","k":1141,"e":1.4},{"b":"sW2","k":1152,"e":1.33},{"b":"sW2","k":1160,"e":1.29},{"b":"sW2","k":1167,"e":1.27},{"b":"sW2","k":1176,"e":1.27},{"b":"sW2","k":1186,"e":1.29},{"b":"sW2","k":1197,"e":1.34},{"b":"sW2","k":1208,"e":1.4},{"b":"sW2","k":1220,"e":1.43},{"b":"sW2","k":1230,"e":1.44},{"b":"sW2","k":1241,"e":1.44},
{"b":"sCu1","k":1199,"e":2.05},{"b":"sCu1","k":1201,"e":2.0},{"b":"sCu1","k":1208,"e":1.9},{"b":"sCu1","k":1216,"e":1.82},{"b":"sCu1","k":1224,"e":1.76},{"b":"sCu1","k":1231,"e":1.725},{"b":"sCu1","k":1241,"e":1.71},{"b":"sCu1","k":1250,"e":1.715},{"b":"sCu1","k":1257,"e":1.725},{"b":"sCu1","k":1265,"e":1.77},{"b":"sCu1","k":1272,"e":1.84},{"b":"sCu1","k":1278,"e":1.92},{"b":"sCu1","k":1283,"e":2.0},{"b":"sCu1","k":1285,"e":2.05},
{"b":"sCu2","k":1200,"e":2.05},{"b":"sCu2","k":1202,"e":2.0},{"b":"sCu2","k":1209,"e":1.9},{"b":"sCu2","k":1217,"e":1.82},{"b":"sCu2","k":1225,"e":1.765},{"b":"sCu2","k":1232,"e":1.73},{"b":"sCu2","k":1241,"e":1.715},{"b":"sCu2","k":1250,"e":1.72},{"b":"sCu2","k":1256,"e":1.73},{"b":"sCu2","k":1264,"e":1.77},{"b":"sCu2","k":1271,"e":1.84},{"b":"sCu2","k":1277,"e":1.92},{"b":"sCu2","k":1282,"e":2.0},{"b":"sCu2","k":1284,"e":2.05},
{"b":"sWL1","k":1091,"e":1.04},{"b":"sWL1","k":1095,"e":1.03},{"b":"sWL1","k":1100,"e":0.98},{"b":"sWL1","k":1105,"e":0.92},{"b":"sWL1","k":1111,"e":0.84},{"b":"sWL1","k":1118,"e":0.71},{"b":"sWL1","k":1126,"e":0.55},{"b":"sWL1","k":1135,"e":0.33},{"b":"sWL1","k":1144,"e":0.11},{"b":"sWL1","k":1153,"e":-0.11},{"b":"sWL1","k":1163,"e":-0.33},{"b":"sWL1","k":1172,"e":-0.55},{"b":"sWL1","k":1182,"e":-0.77},{"b":"sWL1","k":1190,"e":-0.98},{"b":"sWL1","k":1197,"e":-1.17},{"b":"sWL1","k":1203,"e":-1.36},{"b":"sWL1","k":1208,"e":-1.54},{"b":"sWL1","k":1213,"e":-1.72},{"b":"sWL1","k":1218,"e":-1.89},{"b":"sWL1","k":1223,"e":-2.03},{"b":"sWL1","k":1228,"e":-2.14},{"b":"sWL1","k":1233,"e":-2.22},{"b":"sWL1","k":1237,"e":-2.26},{"b":"sWL1","k":1241,"e":-2.27},
{"b":"sWL2","k":1091,"e":0.55},{"b":"sWL2","k":1096,"e":0.54},{"b":"sWL2","k":1102,"e":0.49},{"b":"sWL2","k":1111,"e":0.4},{"b":"sWL2","k":1120,"e":0.26},{"b":"sWL2","k":1129,"e":0.11},{"b":"sWL2","k":1135,"e":0.01},{"b":"sWL2","k":1141,"e":-0.09},{"b":"sWL2","k":1152,"e":-0.31},{"b":"sWL2","k":1163,"e":-0.53},{"b":"sWL2","k":1173,"e":-0.76},{"b":"sWL2","k":1182,"e":-0.97},{"b":"sWL2","k":1190,"e":-1.17},{"b":"sWL2","k":1196,"e":-1.34},{"b":"sWL2","k":1201,"e":-1.5},{"b":"sWL2","k":1206,"e":-1.67},{"b":"sWL2","k":1211,"e":-1.84},{"b":"sWL2","k":1216,"e":-1.98},{"b":"sWL2","k":1221,"e":-2.09},{"b":"sWL2","k":1227,"e":-2.18},{"b":"sWL2","k":1232,"e":-2.23},{"b":"sWL2","k":1237,"e":-2.26},{"b":"sWL2","k":1241,"e":-2.27},
{"b":"sAA1","k":1124,"e":-5.04},{"b":"sAA1","k":1126,"e":-5.0},{"b":"sAA1","k":1135,"e":-4.85},{"b":"sAA1","k":1145,"e":-4.7},{"b":"sAA1","k":1154,"e":-4.56},{"b":"sAA1","k":1163,"e":-4.43},{"b":"sAA1","k":1173,"e":-4.29},{"b":"sAA1","k":1182,"e":-4.17},{"b":"sAA1","k":1192,"e":-4.06},{"b":"sAA1","k":1201,"e":-3.97},{"b":"sAA1","k":1210,"e":-3.87},{"b":"sAA1","k":1220,"e":-3.79},{"b":"sAA1","k":1227,"e":-3.71},{"b":"sAA1","k":1234,"e":-3.65},{"b":"sAA1","k":1241,"e":-3.61},
{"b":"sAA2","k":1127,"e":-5.04},{"b":"sAA2","k":1129,"e":-5.0},{"b":"sAA2","k":1138,"e":-4.85},{"b":"sAA2","k":1148,"e":-4.7},{"b":"sAA2","k":1157,"e":-4.57},{"b":"sAA2","k":1166,"e":-4.44},{"b":"sAA2","k":1176,"e":-4.3},{"b":"sAA2","k":1185,"e":-4.18},{"b":"sAA2","k":1195,"e":-4.06},{"b":"sAA2","k":1204,"e":-3.96},{"b":"sAA2","k":1213,"e":-3.87},{"b":"sAA2","k":1222,"e":-3.78},{"b":"sAA2","k":1229,"e":-3.71},{"b":"sAA2","k":1235,"e":-3.65},{"b":"sAA2","k":1241,"e":-3.61},
{"b":"sAB1","k":1185,"e":-5.03},{"b":"sAB1","k":1186,"e":-5.0},{"b":"sAB1","k":1193,"e":-4.8},{"b":"sAB1","k":1201,"e":-4.6},{"b":"sAB1","k":1210,"e":-4.42},{"b":"sAB1","k":1220,"e":-4.27},{"b":"sAB1","k":1228,"e":-4.2},{"b":"sAB1","k":1235,"e":-4.17},{"b":"sAB1","k":1241,"e":-4.165},{"b":"sAB1","k":1247,"e":-4.17},{"b":"sAB1","k":1255,"e":-4.2},{"b":"sAB1","k":1265,"e":-4.31},{"b":"sAB1","k":1276,"e":-4.55},{"b":"sAB1","k":1285,"e":-4.8},{"b":"sAB1","k":1295,"e":-5.0},{"b":"sAB1","k":1296,"e":-5.03},
{"b":"sAB2","k":1192,"e":-5.03},{"b":"sAB2","k":1193,"e":-5.0},{"b":"sAB2","k":1200,"e":-4.8},{"b":"sAB2","k":1208,"e":-4.6},{"b":"sAB2","k":1216,"e":-4.42},{"b":"sAB2","k":1223,"e":-4.3},{"b":"sAB2","k":1231,"e":-4.2},{"b":"sAB2","k":1236,"e":-4.17},{"b":"sAB2","k":1241,"e":-4.165},{"b":"sAB2","k":1246,"e":-4.17},{"b":"sAB2","k":1253,"e":-4.2},{"b":"sAB2","k":1262,"e":-4.31},{"b":"sAB2","k":1270,"e":-4.48},{"b":"sAB2","k":1278,"e":-4.7},{"b":"sAB2","k":1284,"e":-4.87},{"b":"sAB2","k":1288,"e":-5.0},{"b":"sAB2","k":1289,"e":-5.03},
{"b":"sX1","k":1241,"e":1.44},{"b":"sX1","k":1255,"e":1.43},{"b":"sX1","k":1268,"e":1.41},{"b":"sX1","k":1280,"e":1.4},{"b":"sX1","k":1293,"e":1.39},{"b":"sX1","k":1300,"e":1.41},{"b":"sX1","k":1307,"e":1.47},{"b":"sX1","k":1314,"e":1.59},{"b":"sX1","k":1320,"e":1.72},{"b":"sX1","k":1325,"e":1.83},{"b":"sX1","k":1330,"e":1.91},{"b":"sX1","k":1335,"e":1.97},{"b":"sX1","k":1340,"e":2.0},{"b":"sX1","k":1345,"e":1.97},{"b":"sX1","k":1350,"e":1.89},{"b":"sX1","k":1355,"e":1.78},{"b":"sX1","k":1360,"e":1.65},{"b":"sX1","k":1364,"e":1.54},{"b":"sX1","k":1368,"e":1.43},{"b":"sX1","k":1371,"e":1.33},{"b":"sX1","k":1374,"e":1.22},{"b":"sX1","k":1377,"e":1.08},{"b":"sX1","k":1381,"e":0.86},{"b":"sX1","k":1385,"e":0.65},{"b":"sX1","k":1389,"e":0.44},{"b":"sX1","k":1393,"e":0.25},{"b":"sX1","k":1398,"e":0.08},{"b":"sX1","k":1402,"e":-0.02},{"b":"sX1","k":1407,"e":-0.17},{"b":"sX1","k":1412,"e":-0.35},{"b":"sX1","k":1418,"e":-0.53},{"b":"sX1","k":1423,"e":-0.66},{"b":"sX1","k":1429,"e":-0.77},{"b":"sX1","k":1435,"e":-0.84},{"b":"sX1","k":1441,"e":-0.88},{"b":"sX1","k":1447,"e":-0.89},
{"b":"sX2","k":1241,"e":1.44},{"b":"sX2","k":1255,"e":1.43},{"b":"sX2","k":1268,"e":1.41},{"b":"sX2","k":1280,"e":1.4},{"b":"sX2","k":1293,"e":1.39},{"b":"sX2","k":1300,"e":1.41},{"b":"sX2","k":1307,"e":1.46},{"b":"sX2","k":1312,"e":1.55},{"b":"sX2","k":1317,"e":1.63},{"b":"sX2","k":1322,"e":1.7},{"b":"sX2","k":1327,"e":1.74},{"b":"sX2","k":1332,"e":1.755},{"b":"sX2","k":1337,"e":1.755},{"b":"sX2","k":1342,"e":1.73},{"b":"sX2","k":1347,"e":1.69},{"b":"sX2","k":1353,"e":1.61},{"b":"sX2","k":1360,"e":1.5},{"b":"sX2","k":1365,"e":1.41},{"b":"sX2","k":1370,"e":1.3},{"b":"sX2","k":1375,"e":1.14},{"b":"sX2","k":1379,"e":0.92},{"b":"sX2","k":1383,"e":0.7},{"b":"sX2","k":1387,"e":0.49},{"b":"sX2","k":1391,"e":0.3},{"b":"sX2","k":1396,"e":0.11},{"b":"sX2","k":1400,"e":0.0},{"b":"sX2","k":1405,"e":-0.15},{"b":"sX2","k":1410,"e":-0.32},{"b":"sX2","k":1416,"e":-0.51},{"b":"sX2","k":1422,"e":-0.65},{"b":"sX2","k":1428,"e":-0.76},{"b":"sX2","k":1434,"e":-0.83},{"b":"sX2","k":1441,"e":-0.875},{"b":"sX2","k":1447,"e":-0.89},
{"b":"sY1","k":1241,"e":-2.27},{"b":"sY1","k":1248,"e":-2.25},{"b":"sY1","k":1255,"e":-2.19},{"b":"sY1","k":1262,"e":-2.09},{"b":"sY1","k":1269,"e":-1.94},{"b":"sY1","k":1276,"e":-1.76},{"b":"sY1","k":1283,"e":-1.56},{"b":"sY1","k":1290,"e":-1.36},{"b":"sY1","k":1297,"e":-1.18},{"b":"sY1","k":1306,"e":-0.99},{"b":"sY1","k":1314,"e":-0.84},{"b":"sY1","k":1321,"e":-0.73},{"b":"sY1","k":1328,"e":-0.67},{"b":"sY1","k":1336,"e":-0.64},{"b":"sY1","k":1345,"e":-0.645},{"b":"sY1","k":1355,"e":-0.67},{"b":"sY1","k":1363,"e":-0.71},{"b":"sY1","k":1371,"e":-0.75},{"b":"sY1","k":1380,"e":-0.79},{"b":"sY1","k":1389,"e":-0.82},{"b":"sY1","k":1398,"e":-0.86},{"b":"sY1","k":1408,"e":-0.89},{"b":"sY1","k":1418,"e":-0.94},{"b":"sY1","k":1426,"e":-0.98},{"b":"sY1","k":1435,"e":-1.02},{"b":"sY1","k":1441,"e":-1.06},{"b":"sY1","k":1447,"e":-1.09},
{"b":"sY2","k":1241,"e":-2.27},{"b":"sY2","k":1248,"e":-2.26},{"b":"sY2","k":1255,"e":-2.21},{"b":"sY2","k":1262,"e":-2.12},{"b":"sY2","k":1269,"e":-1.98},{"b":"sY2","k":1276,"e":-1.8},{"b":"sY2","k":1283,"e":-1.61},{"b":"sY2","k":1290,"e":-1.42},{"b":"sY2","k":1298,"e":-1.23},{"b":"sY2","k":1306,"e":-1.06},{"b":"sY2","k":1314,"e":-0.92},{"b":"sY2","k":1321,"e":-0.82},{"b":"sY2","k":1328,"e":-0.76},{"b":"sY2","k":1336,"e":-0.73},{"b":"sY2","k":1345,"e":-0.735},{"b":"sY2","k":1355,"e":-0.76},{"b":"sY2","k":1363,"e":-0.79},{"b":"sY2","k":1371,"e":-0.82},{"b":"sY2","k":1380,"e":-0.86},{"b":"sY2","k":1389,"e":-0.9},{"b":"sY2","k":1398,"e":-0.94},{"b":"sY2","k":1408,"e":-0.98},{"b":"sY2","k":1418,"e":-1.02},{"b":"sY2","k":1426,"e":-1.05},{"b":"sY2","k":1434,"e":-1.08},{"b":"sY2","k":1441,"e":-1.09},{"b":"sY2","k":1447,"e":-1.09},
{"b":"sZ1","k":1241,"e":-3.61},{"b":"sZ1","k":1249,"e":-3.68},{"b":"sZ1","k":1257,"e":-3.77},{"b":"sZ1","k":1266,"e":-3.87},{"b":"sZ1","k":1276,"e":-3.98},{"b":"sZ1","k":1290,"e":-4.12},{"b":"sZ1","k":1303,"e":-4.23},{"b":"sZ1","k":1314,"e":-4.31},{"b":"sZ1","k":1326,"e":-4.41},{"b":"sZ1","k":1338,"e":-4.5},{"b":"sZ1","k":1351,"e":-4.59},{"b":"sZ1","k":1362,"e":-4.66},{"b":"sZ1","k":1371,"e":-4.71},{"b":"sZ1","k":1380,"e":-4.77},{"b":"sZ1","k":1389,"e":-4.82},{"b":"sZ1","k":1398,"e":-4.88},{"b":"sZ1","k":1408,"e":-4.91},{"b":"sZ1","k":1415,"e":-4.93},{"b":"sZ1","k":1422,"e":-4.94},{"b":"sZ1","k":1435,"e":-4.94},{"b":"sZ1","k":1447,"e":-4.94},
{"b":"sZ2","k":1241,"e":-3.61},{"b":"sZ2","k":1249,"e":-3.69},{"b":"sZ2","k":1257,"e":-3.79},{"b":"sZ2","k":1266,"e":-3.89},{"b":"sZ2","k":1276,"e":-4.0},{"b":"sZ2","k":1290,"e":-4.14},{"b":"sZ2","k":1303,"e":-4.26},{"b":"sZ2","k":1314,"e":-4.34},{"b":"sZ2","k":1326,"e":-4.44},{"b":"sZ2","k":1338,"e":-4.53},{"b":"sZ2","k":1351,"e":-4.62},{"b":"sZ2","k":1362,"e":-4.69},{"b":"sZ2","k":1371,"e":-4.74},{"b":"sZ2","k":1380,"e":-4.81},{"b":"sZ2","k":1389,"e":-4.87},{"b":"sZ2","k":1398,"e":-4.93},{"b":"sZ2","k":1404,"e":-4.97},{"b":"sZ2","k":1410,"e":-5.0},{"b":"sZ2","k":1413,"e":-5.03},
{"b":"sZ3","k":1420,"e":-5.02},{"b":"sZ3","k":1425,"e":-5.0},{"b":"sZ3","k":1435,"e":-4.97},{"b":"sZ3","k":1447,"e":-4.94}
  ]},
  "mark": {"type": "line", "color": "black", "strokeWidth": 1.7, "interpolate": "monotone", "clip": true},
  "encoding": {
   "x": {"field": "k", "type": "quantitative", "scale": {"domain": [79,1447], "nice": false, "zero": false},
         "axis": {"orient": "bottom", "values": [79,291,399,473,699,884,1015,1091,1241,1371,1447], "labelPadding": 16,
                  "labelExpr": "datum.value == 79 ? 'Gamma' : datum.value == 291 ? 'X' : datum.value == 399 ? 'W' : datum.value == 473 ? 'K' : datum.value == 699 ? 'Gamma' : datum.value == 884 ? 'L' : datum.value == 1015 ? 'U' : datum.value == 1091 ? 'W' : datum.value == 1241 ? 'L' : datum.value == 1371 ? 'K\u00a0\u00a0U' : 'X'"}},
   "y": {"field": "e", "type": "quantitative", "scale": {"domain": [-5,2], "nice": false, "zero": false},
         "axis": {"orient": "left", "values": [-5,-4,-3,-2,-1,0,1,2], "labelPadding": 18, "labelExpr": "'' + datum.value"}},
   "detail": {"field": "b", "type": "nominal"}
  }
 },
 {
  "data": {"values": [{"e": 0}]},
  "mark": {"type": "rule", "color": "#ff0000", "strokeDash": [12,6], "strokeWidth": 1.5},
  "encoding": {
   "y": {"field": "e", "type": "quantitative", "scale": {"domain": [-5,2], "nice": false, "zero": false},
         "axis": {"orient": "right", "values": [-5,-4,-3,-2,-1,0,1,2], "labels": false}}
  }
 }
]
}
